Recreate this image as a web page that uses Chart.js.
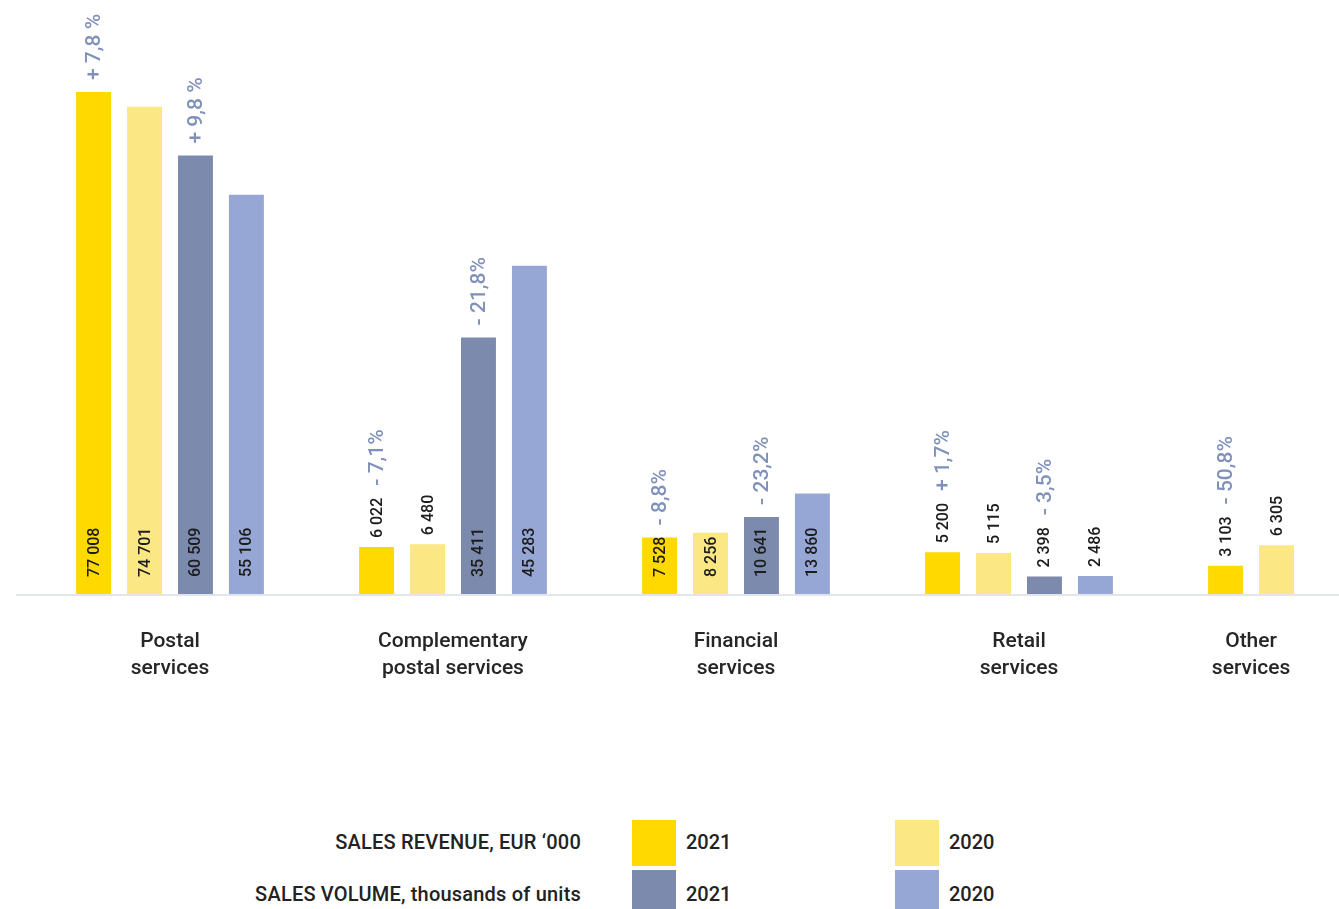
<!DOCTYPE html>
<html>
<head>
<meta charset="utf-8">
<script src="https://cdn.jsdelivr.net/npm/chart.js@4.4.1/dist/chart.umd.min.js"></script>
<style>
    body { margin: 0; background: #fff; overflow: hidden; font-family: Roboto, sans-serif; color: #222; }
    #wrap { position: relative; width: 1339px; height: 909px; }
    #graf { position: absolute; left: 0; top: 0; }
    .rotulo { position: absolute; right: 758px; font-size: 20px; font-weight: 500; line-height: 24px; white-space: nowrap; letter-spacing: 0.2px; }
    .caixa { position: absolute; width: 44px; height: 46px; }
    .ano { position: absolute; font-size: 20px; font-weight: 500; line-height: 24px; }
</style>
</head>
<body>
<div id="wrap">
    <canvas id="graf" width="1339" height="700"></canvas>

    <div class="rotulo" style="top:830px">SALES REVENUE, EUR ‘000</div>
    <div class="caixa" style="left:632px; top:820px; background:#FFD900"></div>
    <div class="ano" style="left:686px; top:830px">2021</div>
    <div class="caixa" style="left:895px; top:820px; background:#FCE785"></div>
    <div class="ano" style="left:949px; top:830px">2020</div>

    <div class="rotulo" style="top:882px">SALES VOLUME, thousands of units</div>
    <div class="caixa" style="left:632px; top:870px; background:#7B8AAD"></div>
    <div class="ano" style="left:686px; top:882px">2021</div>
    <div class="caixa" style="left:895px; top:870px; background:#97A7D5"></div>
    <div class="ano" style="left:949px; top:882px">2020</div>
</div>

<script>
// dados
const categorias = [['Postal', 'services'], ['Complementary', 'postal services'], ['Financial', 'services'], ['Retail', 'services'], ['Other', 'services']];
const receita2021 = [77008, 6022, 7528, 5200, 3103];
const receita2020 = [74701, 6480, 8256, 5115, 6305];
const volume2021 = [60509, 35411, 10641, 2398, null];
const volume2020 = [55106, 45283, 13860, 2486, null];
const variacaoReceita = ['+ 7,8 %', '- 7,1%', '- 8,8%', '+ 1,7%', '- 50,8%'];
const variacaoVolume = ['+ 9,8 %', '- 21,8%', '- 23,2%', '- 3,5%', null];

function formatar(v) {
    return String(v).replace(/\B(?=(\d{3})+(?!\d))/g, ' ');
}

// linha de base cinza
const linhaBase = {
    id: 'linhaBase',
    beforeDatasetsDraw(chart) {
        const ctx = chart.ctx;
        const y = chart.chartArea.bottom + 1;
        ctx.save();
        ctx.strokeStyle = '#e2e5ea';
        ctx.lineWidth = 2;
        ctx.beginPath();
        ctx.moveTo(16, y);
        ctx.lineTo(chart.width, y);
        ctx.stroke();
        ctx.restore();
    }
};

// valores e variações na vertical
const rotulos = {
    id: 'rotulos',
    afterDatasetsDraw(chart) {
        const ctx = chart.ctx;
        const base = chart.chartArea.bottom;
        chart.data.datasets.forEach((ds, i) => {
            const meta = chart.getDatasetMeta(i);
            meta.data.forEach((bar, j) => {
                const v = ds.data[j];
                if (v === null) return;
                const altura = base - bar.y;
                const texto = formatar(v);
                ctx.save();
                ctx.translate(bar.x, base);
                ctx.rotate(-Math.PI / 2);
                ctx.textAlign = 'left';
                ctx.textBaseline = 'middle';
                ctx.font = '500 16px Roboto';
                ctx.fillStyle = '#1c1c1c';
                const largura = ctx.measureText(texto).width;
                let fim;
                if (altura >= largura + 14) {
                    ctx.fillText(texto, 17, 1);
                    fim = altura;
                } else {
                    ctx.fillText(texto, altura + 9, 1);
                    fim = altura + 9 + largura;
                }
                const pct = ds.variacao ? ds.variacao[j] : null;
                if (pct) {
                    ctx.font = '500 21px Roboto';
                    ctx.fillStyle = '#7f91bb';
                    ctx.fillText(pct, fim + 12, 1);
                }
                ctx.restore();
            });
        });
    }
};

// nomes das categorias por baixo das barras
const nomesCategorias = {
    id: 'nomesCategorias',
    afterDraw(chart) {
        const ctx = chart.ctx;
        ctx.save();
        ctx.font = '500 21px Roboto';
        ctx.fillStyle = '#262626';
        ctx.textAlign = 'center';
        ctx.textBaseline = 'middle';
        categorias.forEach((linhas, j) => {
            let soma = 0, n = 0;
            chart.data.datasets.forEach((ds, i) => {
                if (ds.data[j] !== null) {
                    soma += chart.getDatasetMeta(i).data[j].x;
                    n++;
                }
            });
            const x = soma / n;
            linhas.forEach((l, k) => ctx.fillText(l, x, 642 + k * 27));
        });
        ctx.restore();
    }
};

const baseReceita = -1300;

const ctx = document.getElementById('graf').getContext('2d');
new Chart(ctx, {
    type: 'bar',
    data: {
        labels: categorias,
        datasets: [
            { label: 'Sales revenue 2021', data: receita2021, backgroundColor: '#FFD900', yAxisID: 'yReceita', base: baseReceita, variacao: variacaoReceita, clip: false },
            { label: 'Sales revenue 2020', data: receita2020, backgroundColor: '#FCE785', yAxisID: 'yReceita', base: baseReceita, clip: false },
            { label: 'Sales volume 2021', data: volume2021, backgroundColor: '#7B8AAD', yAxisID: 'yVolume', variacao: variacaoVolume, clip: false },
            { label: 'Sales volume 2020', data: volume2020, backgroundColor: '#97A7D5', yAxisID: 'yVolume', clip: false }
        ]
    },
    options: {
        responsive: false,
        animation: false,
        devicePixelRatio: 1,
        categoryPercentage: 0.72,
        barPercentage: 0.686,
        layout: { padding: { left: 170, right: 37, top: 0, bottom: 106 } },
        plugins: {
            legend: { display: false },
            tooltip: { enabled: false }
        },
        scales: {
            x: { offset: false, display: false },
            yReceita: { display: false, min: baseReceita, max: baseReceita + 594 * 156 },
            yVolume: { display: false, position: 'right', min: 0, max: 594 * 138 }
        }
    },
    plugins: [linhaBase, rotulos, nomesCategorias]
});
</script>
</body>
</html>
